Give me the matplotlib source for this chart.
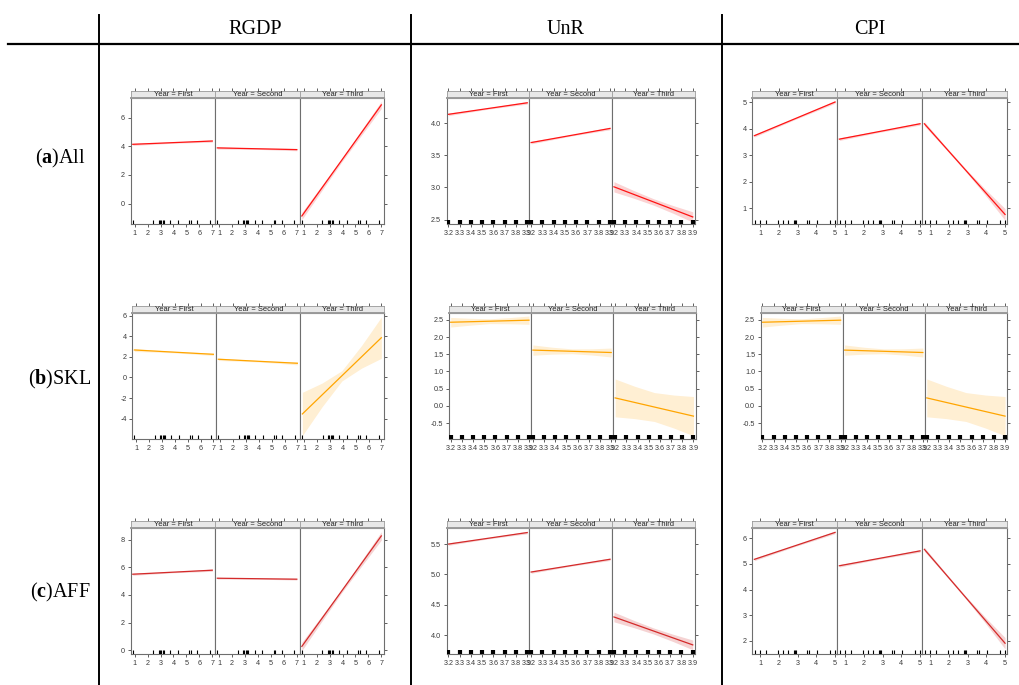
"""Effect plots by year for RGDP, UnR and CPI, laid out as a table."""

import matplotlib.pyplot as plt
import numpy as np

W, H = 1019, 685

variables = ["RGDP", "UnR", "CPI"]
groups = ["All", "SKL", "AFF"]
group_tags = ["a", "b", "c"]
years = ["First", "Second", "Third"]

# x range covered by the fitted lines
x_span = {"RGDP": [0.85, 7.0], "UnR": [3.2, 3.9], "CPI": [0.7, 5.0]}
x_ticks = {"RGDP": [1, 2, 3, 4, 5, 6, 7],
           "UnR": [3.2, 3.3, 3.4, 3.5, 3.6, 3.7, 3.8, 3.9],
           "CPI": [1, 2, 3, 4, 5]}
x_lims = {"RGDP": (0.69, 7.23), "UnR": (3.185, 3.92), "CPI": (0.59, 5.12)}

rug_rgdp = [0.85, 2.44, 2.85, 2.95, 3.05, 3.16, 3.26, 3.73, 4.32, 5.22, 5.33, 5.84, 6.82]
rug_unr = [3.2, 3.3, 3.4, 3.5, 3.6, 3.7, 3.8, 3.9]
rug_cpi = [0.72, 1.0, 1.30, 1.94, 2.23, 2.51, 2.80, 2.87, 2.94, 3.51, 3.61, 4.02, 4.73, 5.0]

# fitted values [start, end] per year,
# band half-widths at 5 evenly spaced points along the line
all_rgdp_fit = [[4.14, 4.37], [3.89, 3.77], [-0.86, 6.89]]
all_rgdp_hw = [[0.08, 0.06, 0.04, 0.06, 0.08], [0.08, 0.06, 0.04, 0.06, 0.08],
               [0.25, 0.18, 0.12, 0.18, 0.25]]
all_unr_fit = [[4.14, 4.32], [3.70, 3.92], [3.01, 2.54]]
all_unr_hw = [[0.02, 0.015, 0.01, 0.015, 0.02], [0.02, 0.015, 0.01, 0.015, 0.02],
              [0.08, 0.06, 0.05, 0.06, 0.08]]
all_cpi_fit = [[3.73, 5.00], [3.60, 4.18], [4.18, 0.76]]
all_cpi_hw = [[0.05, 0.04, 0.03, 0.04, 0.05], [0.05, 0.04, 0.03, 0.04, 0.05],
              [0.08, 0.05, 0.05, 0.11, 0.22]]

skl_rgdp_fit = [[2.67, 2.25], [1.77, 1.38], [-3.54, 3.86]]
skl_rgdp_hw = [[0.15, 0.1, 0.07, 0.09, 0.12], [0.12, 0.09, 0.07, 0.1, 0.15],
               [2.1, 1.15, 0.5, 1.1, 2.0]]
skl_unr_fit = [[2.43, 2.49], [1.62, 1.55], [0.23, -0.30]]
skl_unr_hw = [[0.14, 0.1, 0.07, 0.09, 0.12], [0.15, 0.1, 0.07, 0.09, 0.13],
              [0.55, 0.47, 0.42, 0.48, 0.57]]
skl_cpi_fit = [[2.43, 2.49], [1.62, 1.55], [0.23, -0.30]]
skl_cpi_hw = [[0.14, 0.1, 0.07, 0.09, 0.12], [0.15, 0.1, 0.07, 0.09, 0.13],
              [0.55, 0.47, 0.42, 0.48, 0.57]]

aff_rgdp_fit = [[5.50, 5.79], [5.21, 5.14], [0.28, 8.27]]
aff_rgdp_hw = [[0.08, 0.06, 0.04, 0.06, 0.08], [0.06, 0.045, 0.03, 0.045, 0.06],
               [0.30, 0.2, 0.12, 0.2, 0.30]]
aff_unr_fit = [[5.50, 5.69], [5.04, 5.25], [4.30, 3.84]]
aff_unr_hw = [[0.02, 0.015, 0.01, 0.015, 0.02], [0.02, 0.015, 0.01, 0.015, 0.02],
              [0.08, 0.06, 0.05, 0.06, 0.08]]
aff_cpi_fit = [[5.18, 6.23], [4.93, 5.51], [5.57, 1.91]]
aff_cpi_hw = [[0.05, 0.04, 0.03, 0.04, 0.05], [0.05, 0.04, 0.03, 0.04, 0.05],
              [0.08, 0.05, 0.05, 0.11, 0.22]]

y_lims = {
    ("All", "RGDP"): (-1.42, 7.35), ("All", "UnR"): (2.43, 4.39), ("All", "CPI"): (0.40, 5.14),
    ("SKL", "RGDP"): (-5.97, 6.23), ("SKL", "UnR"): (-0.965, 2.69), ("SKL", "CPI"): (-0.965, 2.69),
    ("AFF", "RGDP"): (-0.27, 8.82), ("AFF", "UnR"): (3.69, 5.76), ("AFF", "CPI"): (1.49, 6.39),
}
y_ticks = {
    ("All", "RGDP"): [0, 2, 4, 6], ("All", "UnR"): [2.5, 3.0, 3.5, 4.0], ("All", "CPI"): [1, 2, 3, 4, 5],
    ("SKL", "RGDP"): [-4, -2, 0, 2, 4, 6], ("SKL", "UnR"): [-0.5, 0.0, 0.5, 1.0, 1.5, 2.0, 2.5],
    ("SKL", "CPI"): [-0.5, 0.0, 0.5, 1.0, 1.5, 2.0, 2.5],
    ("AFF", "RGDP"): [0, 2, 4, 6, 8], ("AFF", "UnR"): [4.0, 4.5, 5.0, 5.5], ("AFF", "CPI"): [2, 3, 4, 5, 6],
}

fits = {
    ("All", "RGDP"): (all_rgdp_fit, all_rgdp_hw), ("All", "UnR"): (all_unr_fit, all_unr_hw),
    ("All", "CPI"): (all_cpi_fit, all_cpi_hw),
    ("SKL", "RGDP"): (skl_rgdp_fit, skl_rgdp_hw), ("SKL", "UnR"): (skl_unr_fit, skl_unr_hw),
    ("SKL", "CPI"): (skl_cpi_fit, skl_cpi_hw),
    ("AFF", "RGDP"): (aff_rgdp_fit, aff_rgdp_hw), ("AFF", "UnR"): (aff_unr_fit, aff_unr_hw),
    ("AFF", "CPI"): (aff_cpi_fit, aff_cpi_hw),
}
# the SKL / CPI cell in the source repeats the UnR x axis
x_axis_of = {("SKL", "CPI"): "UnR"}
rugs = {"RGDP": rug_rgdp, "UnR": rug_unr, "CPI": rug_cpi}

line_colors = {"All": "#ff1414", "SKL": "#ffa500", "AFF": "#d42a2a"}
band_colors = {"All": "#fbd3d3", "SKL": "#ffefd3", "AFF": "#f5d3d3"}

# layout in pixels (top-based)
rows_tb = [(90.7, 98.3, 224.0), (305.7, 313.3, 439.0), (520.7, 528.3, 654.0)]
panel_lr = [
    [(130.7, 384.3), (446.7, 695.0), (752.3, 1007.3)],
    [(132.3, 384.3), (449.0, 695.7), (760.7, 1007.3)],
    [(130.7, 384.3), (446.7, 695.0), (752.3, 1007.3)],
]

FRAME = "#6e6e6e"
SANS = ["Liberation Sans", "DejaVu Sans"]
SERIF = ["Liberation Serif", "DejaVu Serif"]

plt.rcParams["mathtext.fontset"] = "custom"
plt.rcParams["mathtext.rm"] = "Liberation Serif"
plt.rcParams["mathtext.bf"] = "Liberation Serif:bold"


def rect(left, top, right, bottom):
    return [left / W, 1 - bottom / H, (right - left) / W, (bottom - top) / H]


def draw_cell(fig, r, c):
    group, var = groups[r], variables[c]
    xvar = x_axis_of.get((group, var), var)
    one_decimal = any(t % 1 for t in y_ticks[(group, var)])
    strip_top, strip_bot, bottom = rows_tb[r]
    left, right = panel_lr[r][c]
    pw = (right - left) / 3
    fit, hw = fits[(group, var)]
    x0, x1 = x_span[xvar]
    for k, year in enumerate(years):
        pl = left + k * pw
        ax = fig.add_axes(rect(pl, strip_bot, pl + pw, bottom))
        st = fig.add_axes(rect(pl, strip_top, pl + pw, strip_bot))

        ys, ye = fit[k]
        h = np.array(hw[k])
        xs = np.linspace(x0, x1, len(h))
        yfit = np.interp(xs, [x0, x1], [ys, ye])
        ax.fill_between(xs, yfit - h, yfit + h, color=band_colors[group], lw=0, zorder=1)
        ax.plot([x0, x1], [ys, ye], color=line_colors[group], lw=0.9, zorder=2)
        ax.vlines(rugs[xvar], 0, 0.033, transform=ax.get_xaxis_transform(),
                  colors="black", lw=3.0 if xvar == "UnR" else 0.8, zorder=3)

        ax.set_xlim(*x_lims[xvar])
        ax.set_ylim(*y_lims[(group, var)])
        ax.set_xticks(x_ticks[xvar])
        ax.set_xticklabels([f"{t:g}" for t in x_ticks[xvar]])
        ax.set_yticks(y_ticks[(group, var)])
        ax.set_yticklabels([f"{t:.1f}" if one_decimal else f"{t:g}"
                            for t in y_ticks[(group, var)]])
        ax.tick_params(direction="out", length=2.5, width=0.6, color="#444444",
                       labelsize=5.2, labelcolor="#3a3a3a", pad=1.5)
        ax.tick_params(axis="y", left=(k == 0), labelleft=(k == 0), right=(k == 2), labelright=False)
        for t in ax.get_xticklabels() + ax.get_yticklabels():
            t.set_family(SANS)
        for s in ax.spines.values():
            s.set_color(FRAME)
            s.set_linewidth(0.8)

        st.set_facecolor("#e8e8e8")
        st.set_xlim(*x_lims[xvar])
        st.set_xticks(x_ticks[xvar])
        st.set_yticks([])
        st.tick_params(axis="x", top=True, bottom=False, labeltop=False, labelbottom=False,
                       direction="out", length=2.5, width=0.6, color="#444444")
        for s in st.spines.values():
            s.set_color("#9a9a9a")
            s.set_linewidth(0.6)
        st.spines["bottom"].set_linewidth(1.4)
        st.text(0.5, 0.45, f"Year = {year}", transform=st.transAxes, ha="center", va="center",
                fontsize=5.4, color="#222222", family=SANS)


def main():
    fig = plt.figure(figsize=(W / 100, H / 100), dpi=100)
    bg = fig.add_axes([0, 0, 1, 1])
    bg.set_xlim(0, W)
    bg.set_ylim(H, 0)
    bg.axis("off")

    # table rules
    bg.plot([8, W], [44, 44], color="black", lw=1.6)
    for x in [99, 411, 722]:
        bg.plot([x, x], [15, H], color="black", lw=1.4)

    for c, var in enumerate(variables):
        cx = [255, 566, 870][c]
        bg.text(cx, 29, var, ha="center", va="center", fontsize=14.5, family=SERIF)

    for r, (tag, group) in enumerate(zip(group_tags, groups)):
        cy = [158, 379, 592][r]
        bg.text(60, cy, f"($\\mathbf{{{tag}}}$){group}", ha="center", va="center",
                fontsize=14.5, family=SERIF)

    for r in range(3):
        for c in range(3):
            draw_cell(fig, r, c)

    fig.savefig("out.png", dpi=100)
    plt.close(fig)


if __name__ == "__main__":
    main()
